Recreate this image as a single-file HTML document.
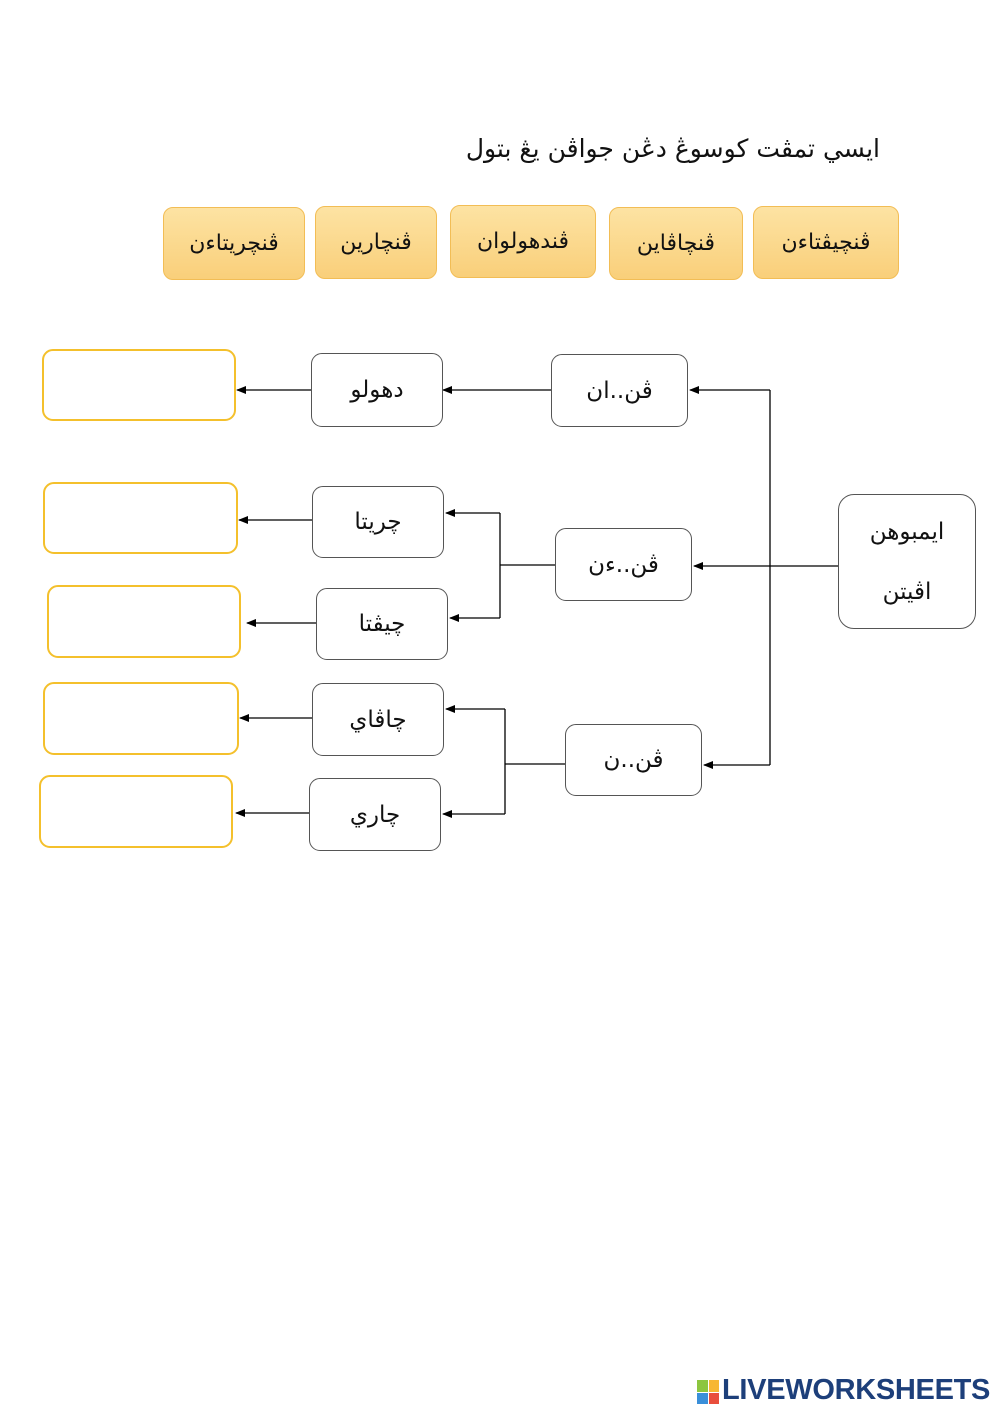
<!DOCTYPE html>
<html><head><meta charset="utf-8"><style>
body{margin:0;background:#fff;}
#p{position:relative;width:1000px;height:1413px;overflow:hidden;font-family:"DejaVu Sans","Liberation Sans",sans-serif;}
.b{position:absolute;box-sizing:border-box;display:flex;align-items:center;justify-content:center;text-align:center;direction:rtl;color:#111;}
.c{background:linear-gradient(#fde3a3,#f9cf7a);border:1px solid #f2bd55;border-radius:10px;font-size:22px;}
.w{background:#fff;border:1.3px solid #555;border-radius:11px;font-size:23px;}
.y{border:2px solid #f4c02c;border-radius:11px;background:#fff;}
</style></head><body><div id="p">
<div class="b" style="left:0;top:126px;width:880px;height:44px;justify-content:flex-start;font-size:25px;white-space:nowrap">ايسي تمڤت كوسوڠ دڠن جواڤن يڠ بتول</div>
<div class="b c" style="left:163px;top:207px;width:142px;height:73px">ڤنچريتاءن</div>
<div class="b c" style="left:315px;top:206px;width:122px;height:73px">ڤنچارين</div>
<div class="b c" style="left:450px;top:205px;width:146px;height:73px">ڤندهولوان</div>
<div class="b c" style="left:609px;top:207px;width:134px;height:73px">ڤنچاڤاين</div>
<div class="b c" style="left:753px;top:206px;width:146px;height:73px">ڤنچيڤتاءن</div>

<svg style="position:absolute;left:0;top:0" width="1000" height="1413">
<defs><marker id="a" markerWidth="10" markerHeight="8" refX="9" refY="4" orient="auto" markerUnits="userSpaceOnUse"><path d="M0,0L10,4L0,8z" fill="#000"/></marker></defs>
<g stroke="#000" stroke-width="1.3" fill="none">
<path d="M770,390V765"/>
<path d="M770,390H690" marker-end="url(#a)"/>
<path d="M838,566H694" marker-end="url(#a)"/>
<path d="M770,765H704" marker-end="url(#a)"/>
<path d="M551,390H443" marker-end="url(#a)"/>
<path d="M311,390H237" marker-end="url(#a)"/>
<path d="M555,565H500M500,513V618"/>
<path d="M500,513H446" marker-end="url(#a)"/>
<path d="M500,618H450" marker-end="url(#a)"/>
<path d="M312,520H239" marker-end="url(#a)"/>
<path d="M316,623H247" marker-end="url(#a)"/>
<path d="M565,764H505M505,709V814"/>
<path d="M505,709H446" marker-end="url(#a)"/>
<path d="M505,814H443" marker-end="url(#a)"/>
<path d="M312,718H240" marker-end="url(#a)"/>
<path d="M309,813H236" marker-end="url(#a)"/>
</g></svg>

<div class="b w" style="left:311px;top:353px;width:132px;height:74px">دهولو</div>
<div class="b w" style="left:551px;top:354px;width:137px;height:73px">ڤن..ان</div>
<div class="b w" style="left:312px;top:486px;width:132px;height:72px">چريتا</div>
<div class="b w" style="left:555px;top:528px;width:137px;height:73px">ڤن..ءن</div>
<div class="b w" style="left:316px;top:588px;width:132px;height:72px">چيڤتا</div>
<div class="b w" style="left:312px;top:683px;width:132px;height:73px">چاڤاي</div>
<div class="b w" style="left:565px;top:724px;width:137px;height:72px">ڤن..ن</div>
<div class="b w" style="left:309px;top:778px;width:132px;height:73px">چاري</div>
<div class="b w" style="left:838px;top:494px;width:138px;height:135px;line-height:60px;border-radius:16px">ايمبوهن<br>اڤيتن</div>

<div class="b y" style="left:42px;top:349px;width:194px;height:72px"></div>
<div class="b y" style="left:43px;top:482px;width:195px;height:72px"></div>
<div class="b y" style="left:47px;top:585px;width:194px;height:73px"></div>
<div class="b y" style="left:43px;top:682px;width:196px;height:73px"></div>
<div class="b y" style="left:39px;top:775px;width:194px;height:73px"></div>

<div style="position:absolute;left:697px;top:1380px;width:22px;height:24px;display:grid;grid-template-columns:1fr 1fr;gap:1px">
<span style="background:#8cc63f"></span><span style="background:#f7b733"></span><span style="background:#3a8fd9"></span><span style="background:#e94e3c"></span></div>
<div style="position:absolute;left:722px;top:1374px;font:bold 29px 'Liberation Sans',sans-serif;color:#1d3f7a;letter-spacing:-0.3px">LIVEWORKSHEETS</div>
</div></body></html>
